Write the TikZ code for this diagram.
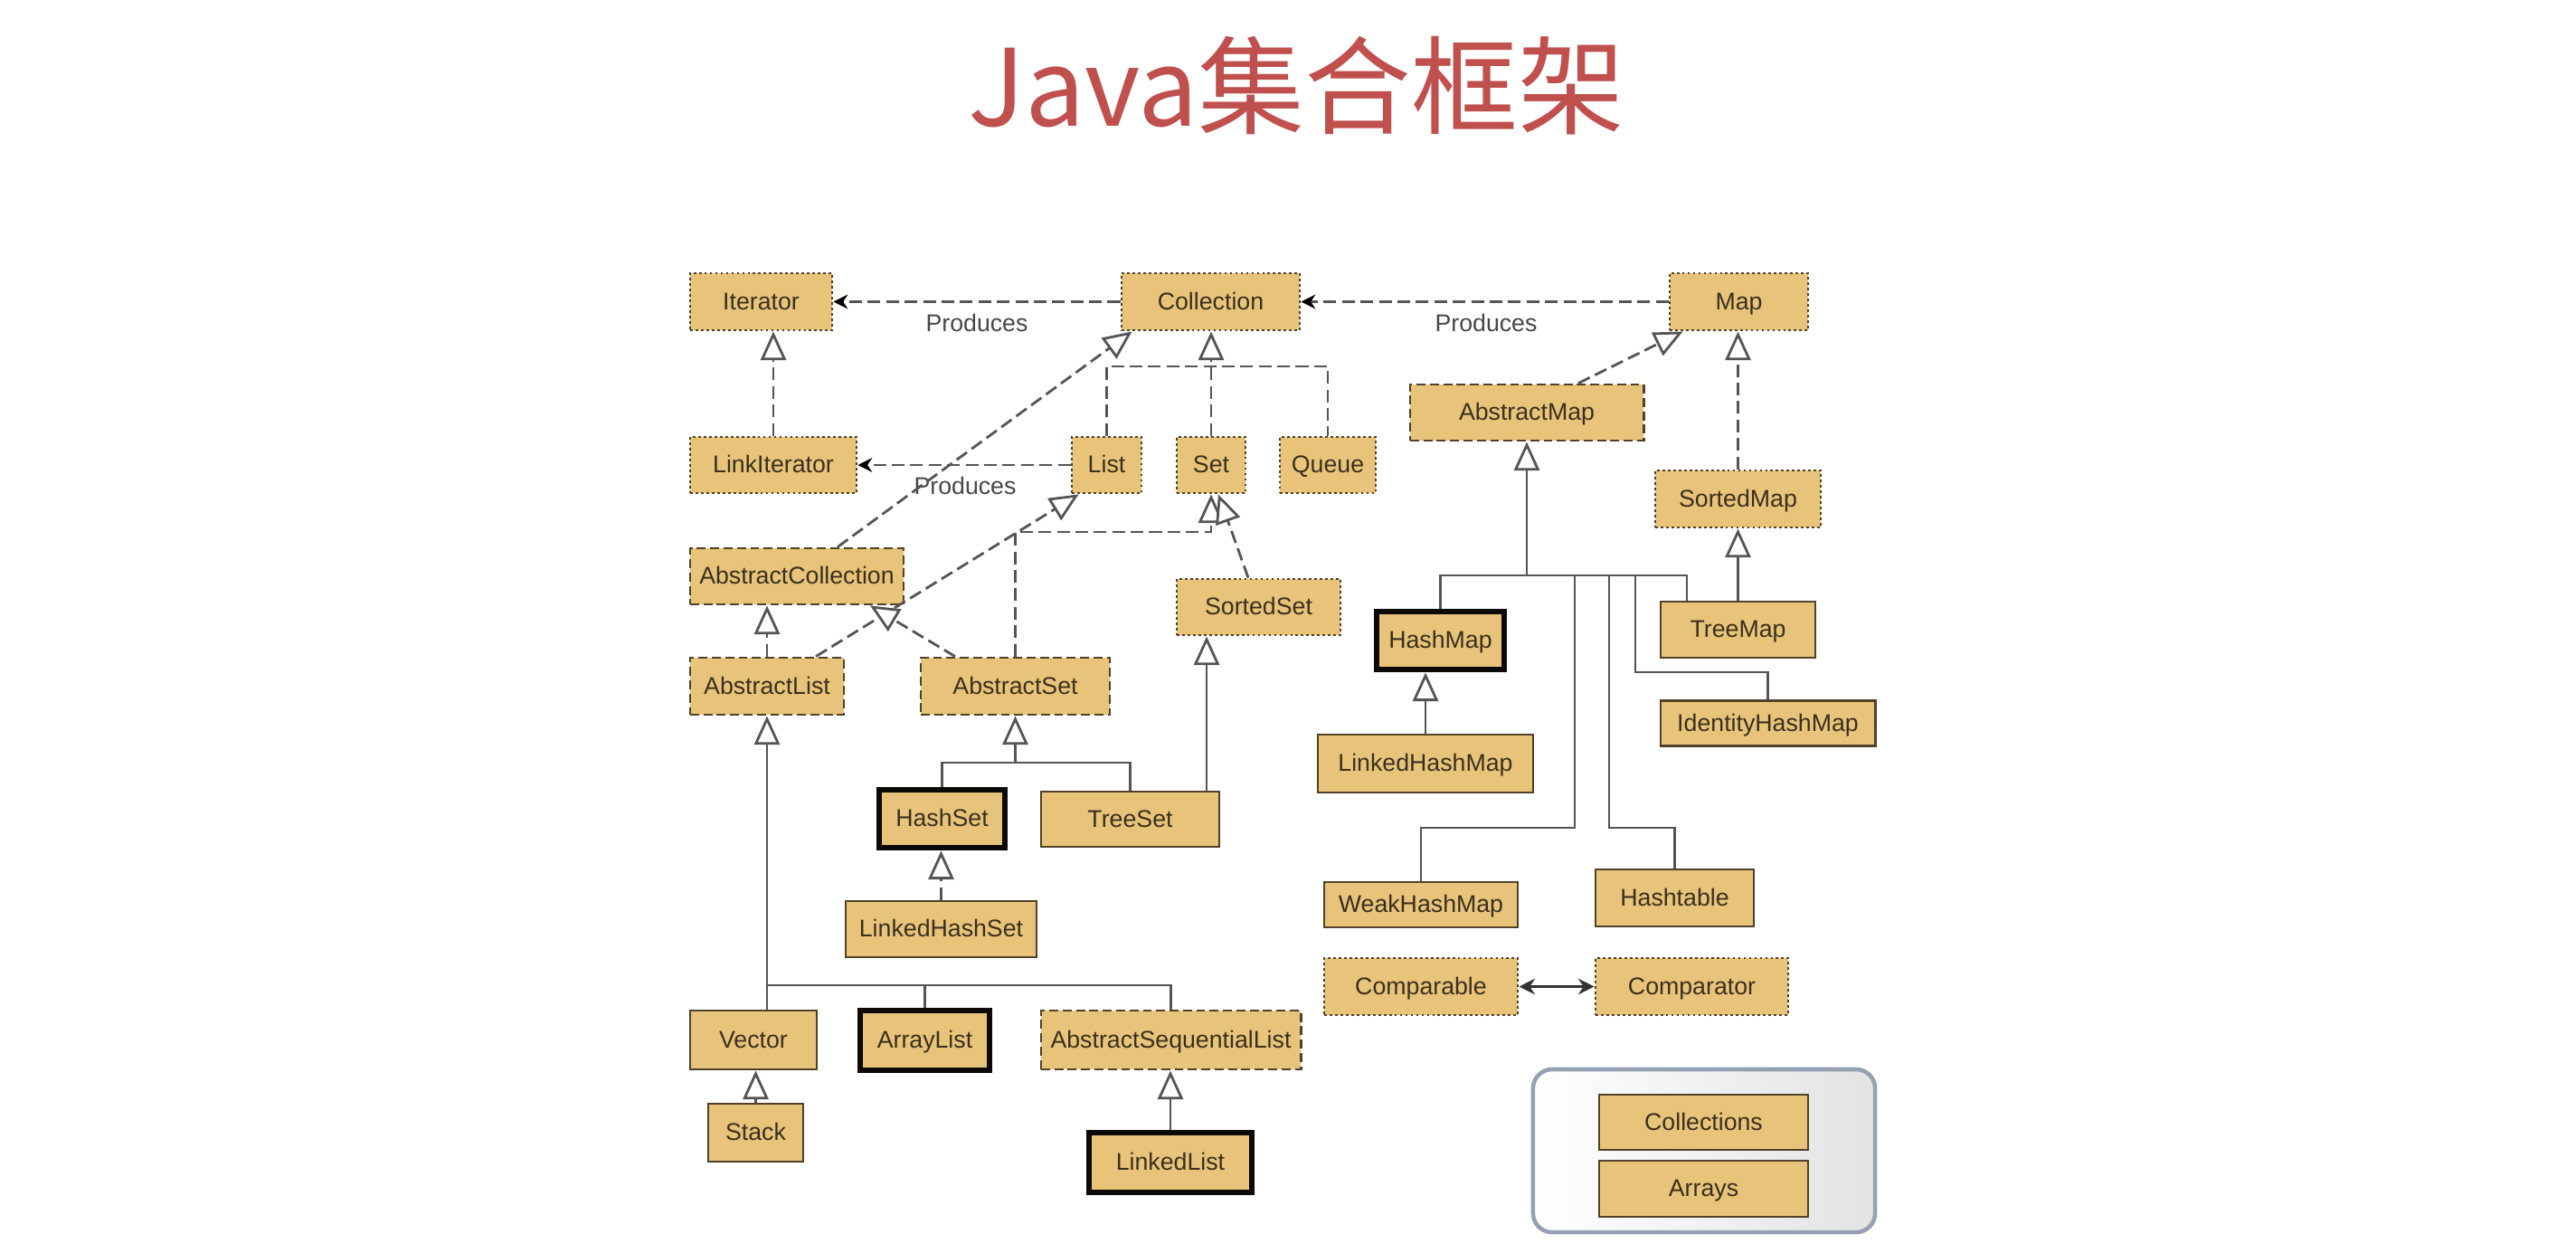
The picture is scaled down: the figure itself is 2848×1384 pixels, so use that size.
\documentclass[tikz,border=0pt]{standalone}
\usepackage{fontspec}
\setmainfont{Liberation Sans}
\newfontfamily\cjk{Noto Sans CJK SC}
\usetikzlibrary{arrows.meta,calc}

\definecolor{boxfill}{RGB}{232,196,122}
\definecolor{boxline}{RGB}{80,66,40}
\definecolor{txt}{RGB}{58,48,30}
\definecolor{connc}{RGB}{85,85,85}
\definecolor{titlered}{RGB}{192,80,77}
\definecolor{legendline}{RGB}{150,160,180}

\begin{document}
\begin{tikzpicture}[x=0.01cm,y=-0.01cm,
  base/.style={fill=boxfill, text=txt, inner sep=0pt, font=\fontsize{7.6pt}{9pt}\selectfont, draw=boxline, text height=5.6pt, text depth=0.6pt},
  sz/.style 2 args={minimum width=#1*0.28453pt, minimum height=#2*0.28453pt},
  iface/.style={base, line width=0.8pt, dash pattern=on 0.8pt off 0.9pt},
  abst/.style={base, line width=0.8pt, dash pattern=on 2.8pt off 1.4pt},
  cls/.style={base, line width=0.8pt},
  mainc/.style={base, line width=1.9pt, draw=black!85!boxline},
  lnk/.style={draw=connc, line width=0.8pt},
  dsh/.style={lnk, dash pattern=on 4pt off 1.8pt},
  inh/.style={-{Triangle[length=9pt,width=8pt,fill=white]}},
  prod/.style={dsh, -{Stealth[length=4.5pt,width=4.5pt,color=black]}},
  lbl/.style={text=black!72, font=\fontsize{7.6pt}{9pt}\selectfont, inner sep=0pt}
]
\useasboundingbox (0,0) rectangle (2848,1384);
\fill[white] (0,0) rectangle (2848,1384);

% title
\node[text=titlered, font=\cjk\fontsize{33.5pt}{40pt}\selectfont, inner sep=0pt] (title) at (1433,95) {Java集合框架};

% nodes
\node[iface, sz={157}{63}] (Iterator) at (841.5,333.5) {Iterator};
\node[iface, sz={197}{63}] (Collection) at (1338.5,333.5) {Collection};
\node[iface, sz={153}{63}] (Map) at (1922.5,333.5) {Map};
\node[abst, sz={258}{62}] (AbstractMap) at (1688,456) {AbstractMap};
\node[iface, sz={184}{62}] (LinkIterator) at (855,514) {LinkIterator};
\node[iface, sz={77}{62}] (List) at (1223.5,514) {List};
\node[iface, sz={76}{62}] (Set) at (1339,514) {Set};
\node[iface, sz={106}{62}] (Queue) at (1468,514) {Queue};
\node[iface, sz={183}{63}] (SortedMap) at (1921.5,551.5) {SortedMap};
\node[abst, sz={236}{62}] (AbstractCollection) at (881,637) {AbstractCollection};
\node[iface, sz={181}{62}] (SortedSet) at (1391.5,671) {SortedSet};
\node[mainc, sz={141}{64}] (HashMap) at (1592.5,708) {HashMap};
\node[cls, sz={171}{62}] (TreeMap) at (1921.5,696) {TreeMap};
\node[abst, sz={170}{63}] (AbstractList) at (848,758.5) {AbstractList};
\node[abst, sz={209}{63}] (AbstractSet) at (1122.5,758.5) {AbstractSet};
\node[cls, sz={237}{50}] (IdentityHashMap) at (1954.5,799.5) {IdentityHashMap};
\node[cls, sz={238}{64}] (LinkedHashMap) at (1576,844) {LinkedHashMap};
\node[mainc, sz={139}{64}] (HashSet) at (1041.5,905) {HashSet};
\node[cls, sz={197}{61}] (TreeSet) at (1249.5,905.5) {TreeSet};
\node[cls, sz={211}{62}] (LinkedHashSet) at (1040.5,1027) {LinkedHashSet};
\node[cls, sz={214}{50}] (WeakHashMap) at (1571,1000) {WeakHashMap};
\node[cls, sz={175}{63}] (Hashtable) at (1851.5,992.5) {Hashtable};
\node[iface, sz={214}{63}] (Comparable) at (1571,1090.5) {Comparable};
\node[iface, sz={213}{63}] (Comparator) at (1870.5,1090.5) {Comparator};
\node[cls, sz={140}{65}] (Vector) at (833,1149.5) {Vector};
\node[mainc, sz={143}{66}] (ArrayList) at (1022.5,1150) {ArrayList};
\node[abst, sz={287}{65}] (AbstractSequentialList) at (1294.5,1149.5) {AbstractSequentialList};
\node[cls, sz={105}{64}] (Stack) at (835.5,1252) {Stack};
\node[mainc, sz={180}{66}] (LinkedList) at (1294,1285) {LinkedList};

% legend
\node[draw=legendline, line width=1.3pt, rounded corners=6pt, left color=white, right color=black!11, sz={378}{180}] (legend) at (1884,1272) {};
\node[cls, sz={231}{61}] (Collections) at (1883.5,1240.5) {Collections};
\node[cls, sz={231}{62}] (Arrays) at (1883.5,1314) {Arrays};

% produces
\draw[prod] (Collection.west) -- (Iterator.east);
\draw[prod] (Map.west) -- (Collection.east);
\draw[prod] (List.west) -- (LinkIterator.east);
\node[lbl] (p1) at (1080,357) {Produces};
\node[lbl] (p2) at (1643,357) {Produces};
\node[lbl] (p3) at (1067,537) {Produces};

% interface inheritance (dashed)
\draw[dsh, inh] (LinkIterator.north) -- (LinkIterator.north |- Iterator.south);
\coordinate (cbus) at (1339,405);
\draw[dsh, inh] (Set.north) -- (Set.north |- Collection.south);
\draw[dsh] (List.north) |- (cbus) -| (Queue.north);
\draw[dsh, inh] ([xshift=0.45cm]AbstractCollection.north) -- ([xshift=0.13cm]Collection.south west);
\draw[dsh, inh] ([xshift=0.54cm]AbstractList.north) -- ([xshift=0.09cm]List.south west);
\draw[dsh, inh] (AbstractList.north) -- (AbstractList.north |- AbstractCollection.south);
\draw[dsh, inh] ([xshift=-0.665cm]AbstractSet.north) -- ([xshift=0.81cm]AbstractCollection.south);
\coordinate (sbus) at (1339,588);
\draw[dsh, inh] (AbstractSet.north) |- (sbus) -- (Set.south);
\draw[dsh, inh] ([xshift=-0.115cm]SortedSet.north) -- ([xshift=0.08cm]Set.south);
\draw[dsh, inh] ([xshift=0.57cm]AbstractMap.north) -- ([xshift=0.16cm]Map.south west);
\draw[dsh, inh] (SortedMap.north) -- (SortedMap.north |- Map.south);
\draw[dsh, inh] (LinkedHashSet.north) -- (LinkedHashSet.north |- HashSet.south);

% class inheritance (solid)
\draw[lnk, inh] ([xshift=0.845cm]TreeSet.north) -- ([xshift=0.845cm]TreeSet.north |- SortedSet.south);
\coordinate (setbus) at (1122.5,843);
\draw[lnk] (HashSet.north) |- (setbus) -| (TreeSet.north);
\draw[lnk, inh] (setbus) -- (AbstractSet.south);

\coordinate (lbus) at (1000,1089);
\draw[lnk, inh] (AbstractList.south |- Vector.north) -- (AbstractList.south);
\draw[lnk] (AbstractList.south |- lbus) -| (AbstractSequentialList.north);
\draw[lnk] (ArrayList.north) -- (ArrayList.north |- lbus);
\draw[lnk, inh] (Stack.north) -- (Stack.north |- Vector.south);
\draw[lnk, inh] (LinkedList.north) -- (LinkedList.north |- AbstractSequentialList.south);

\coordinate (mbus) at (1688,636);
\draw[lnk, inh] (mbus) -- (AbstractMap.south);
\draw[lnk] (HashMap.north) |- (mbus) -| ([xshift=-0.565cm]TreeMap.north);
\draw[lnk, inh] (TreeMap.north) -- (TreeMap.north |- SortedMap.south);
\coordinate (w1) at (1741,636);
\coordinate (w2) at (1741,915);
\draw[lnk] (w1) -- (w2) -| (WeakHashMap.north);
\coordinate (h1) at (1779,636);
\coordinate (h2) at (1779,915);
\draw[lnk] (h1) -- (h2) -| (Hashtable.north);
\coordinate (i1) at (1808,636);
\coordinate (i2) at (1808,743);
\draw[lnk] (i1) -- (i2) -| (IdentityHashMap.north);
\draw[lnk, inh] (LinkedHashMap.north) -- (LinkedHashMap.north |- HashMap.south);

% comparable <-> comparator
\draw[draw=black!80, line width=0.8pt, {Stealth[length=5pt,width=5pt]}-{Stealth[length=5pt,width=5pt]}] (Comparable.east) -- (Comparator.west);
\end{tikzpicture}
\end{document}
